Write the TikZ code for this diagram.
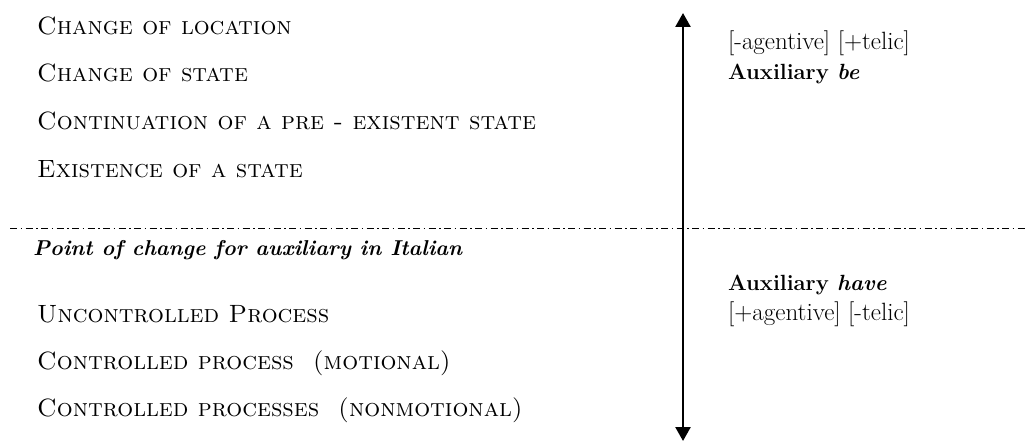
\documentclass[tikz,border=0pt]{standalone}
\usepackage{fontspec}
\usetikzlibrary{arrows.meta}
\begin{document}
\begin{tikzpicture}[x=1pt,y=-1pt,
  lefttext/.style={anchor=base west, inner sep=0pt, font=\fontsize{25}{29}\selectfont},
  pointtext/.style={anchor=base west, inner sep=0pt, font=\fontsize{21.5}{25}\selectfont\bfseries\itshape},
  feattext/.style={anchor=base west, inner sep=0pt, font=\fontsize{25}{29}\selectfont},
  auxtext/.style={anchor=base west, inner sep=0pt, font=\fontsize{22}{26}\selectfont\bfseries},
  splitline/.style={line width=1pt, dash pattern=on 7pt off 3.5pt on 1.5pt off 3.5pt},
  scaleline/.style={line width=2.5pt, {Triangle[width=15pt,length=14pt]}-{Triangle[width=15pt,length=14pt]}}]
  \useasboundingbox (0,0) rectangle (1028,441);
  % verb classes above the split
  \node[lefttext] (cloc)  at (37,35)  {\textsc{Change of location}};
  \node[lefttext] (cst)   at (37,82)  {\textsc{Change of state}};
  \node[lefttext] (cont)  at (37,130) {\textsc{Continuation of a pre - existent state}};
  \node[lefttext] (exist) at (37,178) {\textsc{Existence of a state}};
  % split line
  \coordinate (splitL) at (10,228);
  \coordinate (splitR) at (1028,228);
  \draw[splitline] (splitL) -- (splitR);
  \node[pointtext] (point) at (33,255) {Point of change for auxiliary in Italian};
  % verb classes below the split
  \node[lefttext] (unctl) at (37,322) {\textsc{Uncontrolled Process}};
  \node[lefttext] (ctlm)  at (37,369) {\textsc{Controlled process\ \ (motional)}};
  \node[lefttext] (ctln)  at (37,416) {\textsc{Controlled processes\ \ (nonmotional)}};
  % the scale
  \coordinate (top) at (683,13);
  \coordinate (bottom) at (683,441);
  \draw[scaleline] (bottom) -- (top);
  % auxiliary labels
  \node[feattext] (feat1) at (728,50)  {[-agentive] [+telic]};
  \node[auxtext]  (aux1)  at (728,80)  {Auxiliary \textit{be}};
  \node[auxtext]  (aux2)  at (728,290) {Auxiliary \textit{have}};
  \node[feattext] (feat2) at (728,320) {[+agentive] [-telic]};
\end{tikzpicture}
\end{document}
